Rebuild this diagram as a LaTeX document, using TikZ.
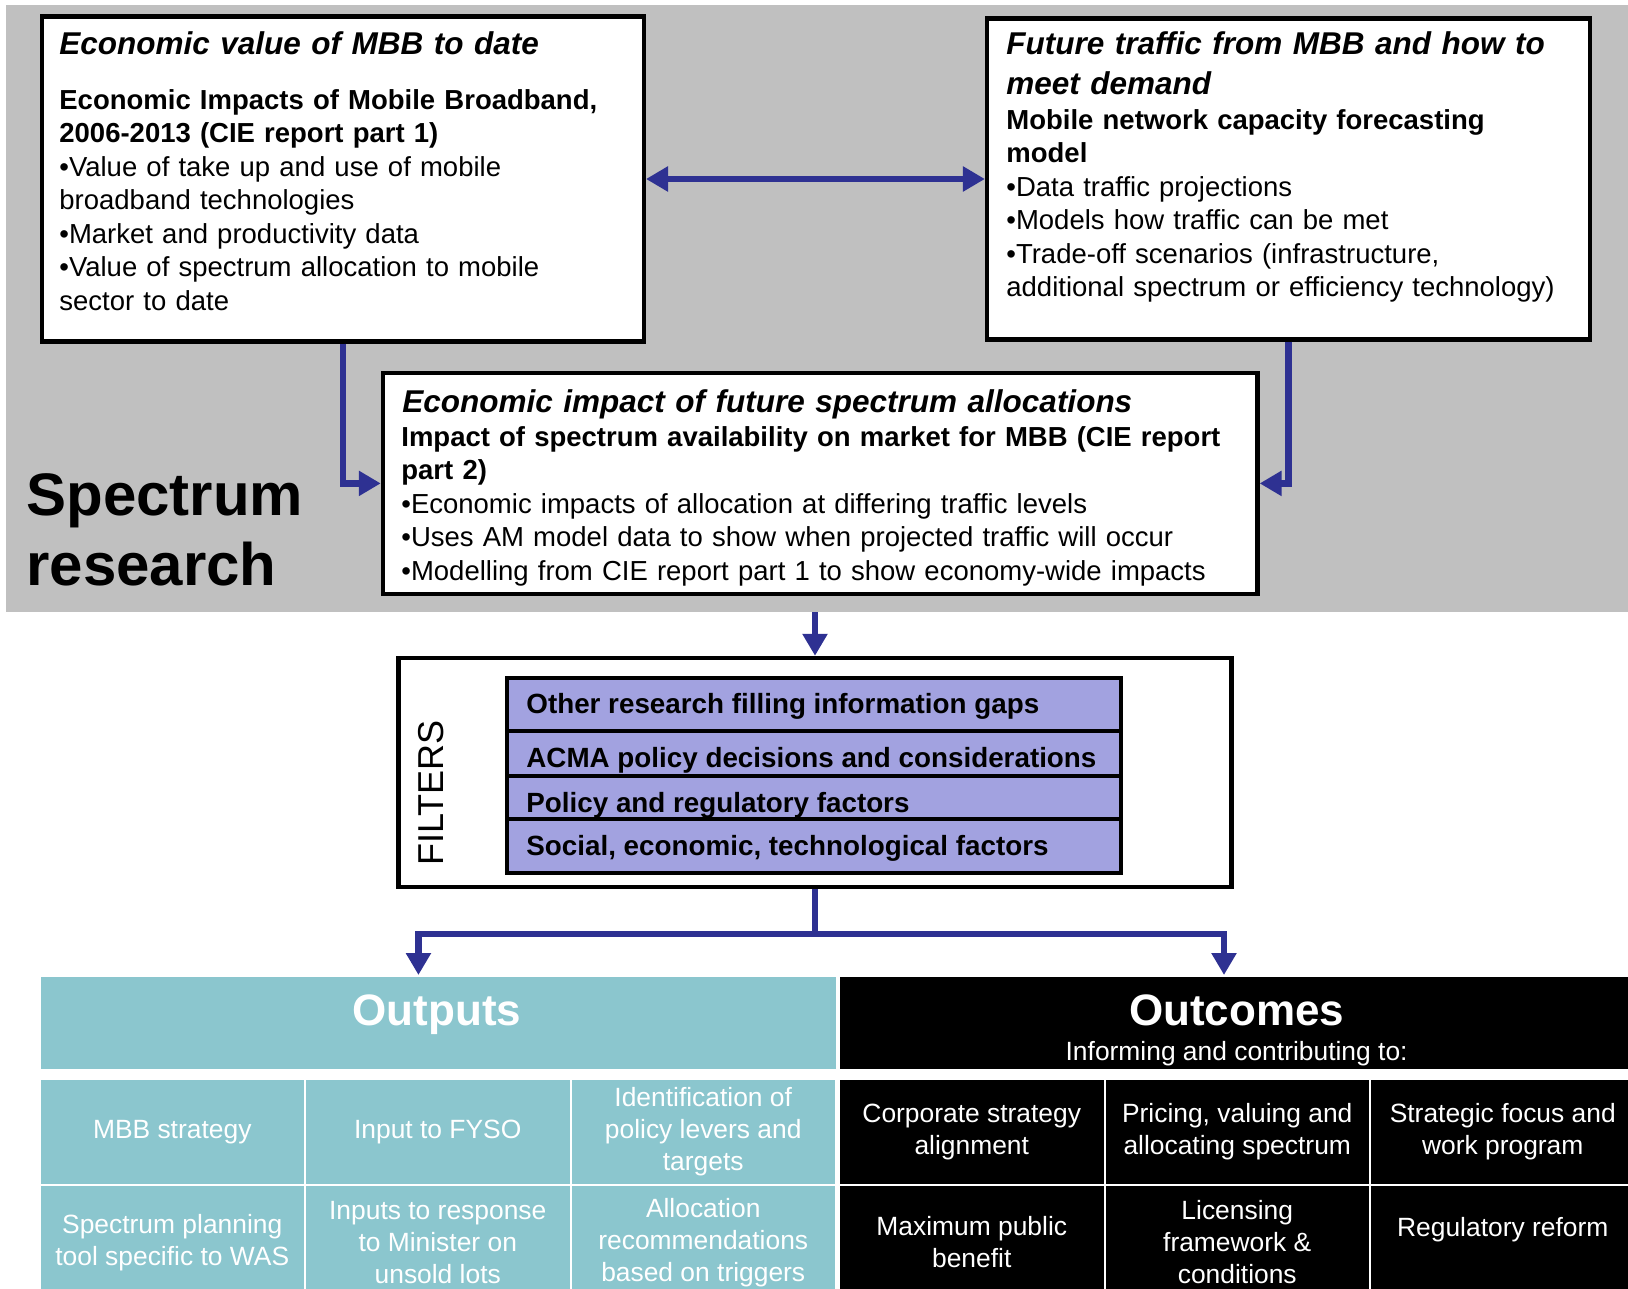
\documentclass[tikz,border=0pt]{standalone}
\usepackage{fontspec}
\setmainfont{Liberation Sans}
\usepackage{xcolor}
\usepackage{tikz}
\usetikzlibrary{arrows.meta}
\usetikzlibrary{positioning}
\definecolor{flowblue}{RGB}{46,49,146}
\definecolor{bggray}{RGB}{192,192,192}
\definecolor{filterfill}{RGB}{162,162,224}
\definecolor{outteal}{RGB}{139,198,206}
\tikzset{
research box/.style = {rectangle, draw = black, fill = white, line width = 2.2pt, inner sep = 0pt},
box title/.style = {anchor = base west, align = left, text width = 440pt, inner sep = 0pt, font = \fontsize{15.75}{20}\selectfont\bfseries\itshape},
box text/.style = {anchor = base west, align = left, text width = 440pt, inner sep = 0pt, font = \fontsize{13.75}{16.75}\selectfont},
filter row/.style = {rectangle, draw = black, fill = filterfill, line width = 2pt, minimum width = 307pt, inner sep = 0pt},
filter text/.style = {anchor = base west, inner sep = 0pt, font = \fontsize{13.9}{16.75}\selectfont\bfseries},
head/.style = {rectangle, draw = white, line width = 1pt, minimum width = 398.75pt, minimum height = 46.75pt, inner sep = 0pt},
head text/.style = {anchor = base, text = white, inner sep = 0pt},
cell/.style = {rectangle, draw = white, line width = 1pt, minimum width = 132.75pt, text = white, align = center, inner sep = 0pt, font = \fontsize{13.2}{16}\selectfont},
flow/.style = {draw = flowblue, line width = 3.2pt, -{Triangle[length = 11pt, width = 12pt]}},
both flow/.style = {draw = flowblue, line width = 3.2pt, {Triangle[length = 11pt, width = 12pt]}-{Triangle[length = 11pt, width = 12pt]}},
}

\begin{document}
\begin{tikzpicture}[x = 0.5pt, y = -0.5pt]
    \useasboundingbox (0, 0) rectangle (1628, 1289);
    \clip (0, 0) rectangle (1628, 1289);
    % grey research area
    \node[rectangle, fill = bggray, minimum width = 811pt, minimum height = 303.5pt, inner sep = 0pt] (research) at (817, 308.5) {};
    \node[anchor = base west, align = left, text width = 200pt, inner sep = 0pt, font = \fontsize{30}{35}\selectfont\bfseries] (research label) at (26, 515) {Spectrum\\research};
    % studies
    \node[research box, minimum width = 301pt, minimum height = 162.5pt] (econ) at (342.8, 179) {};
    \node[research box, minimum width = 301.3pt, minimum height = 160.5pt] (traffic) at (1288.4, 179) {};
    \node[research box, minimum width = 437.25pt, minimum height = 110.6pt] (impact) at (820.2, 483.4) {};
    \node[box title] (econ title) at (59, 55) {Economic value of MBB to date};
    \node[box text] (econ text) at (59, 109.5) {\textbf{Economic Impacts of Mobile Broadband,}\\\textbf{2006-2013 (CIE report part 1)}\\•Value of take up and use of mobile\\broadband technologies\\•Market and productivity data\\•Value of spectrum allocation to mobile\\sector to date};
    \node[box title] (traffic title) at (1006, 55) {Future traffic from MBB and how to\\meet demand};
    \node[box text] (traffic text) at (1006, 129.5) {\textbf{Mobile network capacity forecasting}\\\textbf{model}\\•Data traffic projections\\•Models how traffic can be met\\•Trade-off scenarios (infrastructure,\\additional spectrum or efficiency technology)};
    \node[box title] (impact title) at (402, 412) {Economic impact of future spectrum allocations};
    \node[box text] (impact text) at (401, 446) {\textbf{Impact of spectrum availability on market for MBB (CIE report}\\\textbf{part 2)}\\•Economic impacts of allocation at differing traffic levels\\•Uses AM model data to show when projected traffic will occur\\•Modelling from CIE report part 1 to show economy-wide impacts};
    % filters
    \node[research box, minimum width = 416.5pt, minimum height = 114.4pt] (filters) at (815, 772.4) {};
    \node[rotate = 90, inner sep = 0pt, font = \fontsize{18}{20}\selectfont] (filters label) at (431, 793) {FILTERS};
    \node[filter row, minimum height = 26.5pt] (row1) at (813.5, 704.5) {};
    \node[filter row, minimum height = 22.5pt] (row2) at (813.5, 753.5) {};
    \node[filter row, minimum height = 21.5pt] (row3) at (813.5, 797.5) {};
    \node[filter row, minimum height = 27pt] (row4) at (813.5, 846) {};
    \node[filter text] (row1 text) at (526, 713) {Other research filling information gaps};
    \node[filter text] (row2 text) at (526, 767) {ACMA policy decisions and considerations};
    \node[filter text] (row3 text) at (526, 812) {Policy and regulatory factors};
    \node[filter text] (row4 text) at (526, 855) {Social, economic, technological factors};
    % outputs and outcomes
    \node[head, fill = outteal] (outputs) at (438.25, 1022.75) {};
    \node[head, fill = black] (outcomes) at (1237.5, 1022.75) {};
    \node[head text, font = \fontsize{22}{26}\selectfont\bfseries] (outputs label) at (437, 1025.7) {Outputs};
    \node[head text, font = \fontsize{22}{26}\selectfont\bfseries] (outcomes label) at (1236.6, 1025.7) {Outcomes};
    \node[head text, font = \fontsize{13.2}{16}\selectfont] (outcomes sub) at (1236.6, 1060) {Informing and contributing to:};
    \node[cell, fill = outteal, minimum height = 53pt] (mbb) at (172.25, 1132) {MBB strategy};
    \node[cell, fill = outteal, minimum height = 53pt] (fyso) at (437.75, 1132) {Input to FYSO};
    \node[cell, fill = outteal, minimum height = 53pt] (levers) at (703.25, 1132) {Identification of\\policy levers and\\targets};
    \node[cell, fill = outteal, minimum height = 57.5pt] (tool) at (172.25, 1242.5) {Spectrum planning\\tool specific to WAS};
    \node[cell, fill = outteal, minimum height = 57.5pt] (minister) at (437.75, 1242.5) {Inputs to response\\to Minister on\\unsold lots};
    \node[cell, fill = outteal, minimum height = 57.5pt] (triggers) at (703.25, 1242.5) {Allocation\\recommendations\\based on triggers};
    \node[cell, fill = black, minimum height = 53pt] (corporate) at (971.75, 1132) {Corporate strategy\\alignment};
    \node[cell, fill = black, minimum height = 53pt] (pricing) at (1237.25, 1132) {Pricing, valuing and\\allocating spectrum};
    \node[cell, fill = black, minimum height = 53pt] (focus) at (1502.75, 1132) {Strategic focus and\\work program};
    \node[cell, fill = black, minimum height = 57.5pt] (benefit) at (971.75, 1242.5) {Maximum public\\benefit};
    \node[cell, fill = black, minimum height = 57.5pt] (licensing) at (1237.25, 1242.5) {Licensing\\framework \&\\conditions};
    \node[cell, fill = black, minimum height = 57.5pt] (reform) at (1502.75, 1242.5) {Regulatory reform\\\mbox{}};
    % connectors
    \draw[both flow] (econ.east) -- (traffic.west);
    \draw[flow] (econ.south) |- (impact.west);
    \draw[flow] (traffic.south) |- (impact.east);
    \draw[flow] (filters.north |- research.south) -- (filters.north);
    \coordinate (split) at (815, 934);
    \draw[flow] (filters.south) -- (split) -| ([xshift = -9.9pt]outputs.north);
    \draw[flow] (split) -| ([xshift = -6.75pt]outcomes.north);
\end{tikzpicture}
\end{document}
